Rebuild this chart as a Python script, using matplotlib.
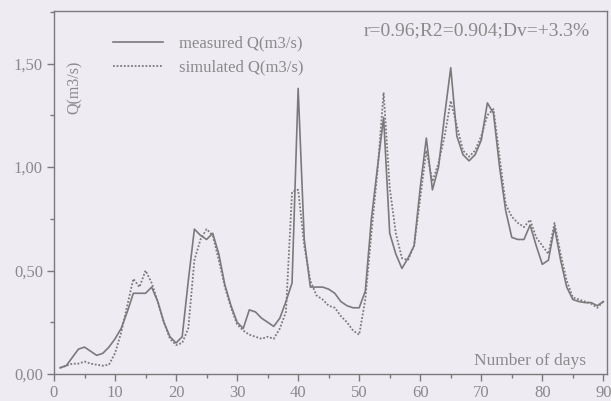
import matplotlib
matplotlib.use("Agg")
import matplotlib.pyplot as plt
from matplotlib.ticker import MultipleLocator, FuncFormatter
import numpy as np

days = list(range(1, 91))
measured = [0.03, 0.04, 0.08, 0.12, 0.13, 0.11, 0.09, 0.10, 0.13, 0.17,
            0.22, 0.30, 0.39, 0.39, 0.39, 0.42, 0.35, 0.25, 0.18, 0.15,
            0.18, 0.45, 0.70, 0.67, 0.65, 0.68, 0.58, 0.43, 0.33, 0.25,
            0.22, 0.31, 0.30, 0.27, 0.25, 0.23, 0.27, 0.35, 0.44, 1.38,
            0.65, 0.42, 0.42, 0.42, 0.41, 0.39, 0.35, 0.33, 0.32, 0.32,
            0.40, 0.75, 1.00, 1.24, 0.68, 0.58, 0.51, 0.56, 0.62, 0.90,
            1.14, 0.89, 1.00, 1.25, 1.48, 1.15, 1.06, 1.03, 1.06, 1.13,
            1.31, 1.26, 1.00, 0.79, 0.66, 0.65, 0.65, 0.72, 0.62, 0.53,
            0.55, 0.71, 0.55, 0.42, 0.36, 0.35, 0.345, 0.345, 0.33, 0.35]
simulated = [0.03, 0.04, 0.05, 0.05, 0.06, 0.05, 0.045, 0.04, 0.045, 0.10,
             0.20, 0.33, 0.46, 0.42, 0.50, 0.44, 0.35, 0.25, 0.17, 0.14,
             0.15, 0.22, 0.55, 0.65, 0.70, 0.67, 0.55, 0.42, 0.32, 0.24,
             0.21, 0.19, 0.18, 0.17, 0.18, 0.17, 0.22, 0.30, 0.88, 0.89,
             0.62, 0.45, 0.38, 0.36, 0.33, 0.32, 0.28, 0.25, 0.21, 0.19,
             0.36, 0.68, 0.98, 1.36, 0.90, 0.68, 0.56, 0.55, 0.62, 0.85,
             1.08, 0.93, 1.02, 1.15, 1.32, 1.20, 1.08, 1.05, 1.08, 1.15,
             1.25, 1.28, 1.05, 0.82, 0.76, 0.73, 0.71, 0.745, 0.66, 0.62,
             0.58, 0.73, 0.58, 0.45, 0.37, 0.36, 0.35, 0.34, 0.32, 0.35]
x_ticks = [0, 10, 20, 30, 40, 50, 60, 70, 80, 90]
y_ticks = [0.0, 0.5, 1.0, 1.5]
stats_text = "r=0.96;R2=0.904;Dv=+3.3%"

plt.rcParams['font.family'] = ['Liberation Serif', 'DejaVu Serif']
gray = '#7a7a7a'
txt = '#8a8a8a'
bg = '#efebf3'

fig = plt.figure(figsize=(6.11, 4.01), dpi=100, facecolor=bg)
ax = fig.add_axes([54/611, (401-374)/401, (607-54)/611, (374-11)/401])
ax.set_facecolor(bg)

ax.plot(days, measured, color=gray, lw=1.2, ls='-', label='measured Q(m3/s)')
ax.plot(days, simulated, color=gray, lw=1.3, ls=(0, (1, 1)), label='simulated Q(m3/s)')

ax.set_xlim(0, 90.6)
ax.set_ylim(0, 1.754)
ax.set_xticks(x_ticks)
ax.set_yticks(y_ticks)
ax.xaxis.set_minor_locator(MultipleLocator(5))
ax.yaxis.set_minor_locator(MultipleLocator(0.25))
ax.yaxis.set_major_formatter(FuncFormatter(lambda v, p: f"{v:.2f}".replace('.', ',')))
ax.tick_params(which='both', direction='out', colors=gray, labelcolor=txt, labelsize=12)
ax.tick_params(which='major', length=5, width=1)
ax.tick_params(which='minor', length=3, width=1)
ax.tick_params(axis='x', pad=3)
ax.tick_params(axis='y', pad=3)
for s in ax.spines.values():
    s.set_color(gray)
    s.set_linewidth(1.0)

leg = ax.legend(loc='upper left', bbox_to_anchor=(0.085, 0.965), frameon=False,
                handlelength=3.0, handletextpad=0.95, fontsize=12, labelspacing=0.5,
                borderpad=0.2)
for t in leg.get_texts():
    t.set_color(txt)

ax.text(0.969, 0.945, stats_text, transform=ax.transAxes, ha='right', va='center',
        fontsize=14, color=txt)
fig.text(75/611, 1 - 87/401, 'Q(m3/s)', rotation=90, ha='center', va='center',
         fontsize=11.5, color=txt)
fig.text(586/611, 1 - 361/401, 'Number of days', ha='right', va='center',
         fontsize=12.5, color=txt)

fig.savefig('out.png', dpi=100, facecolor=bg)
